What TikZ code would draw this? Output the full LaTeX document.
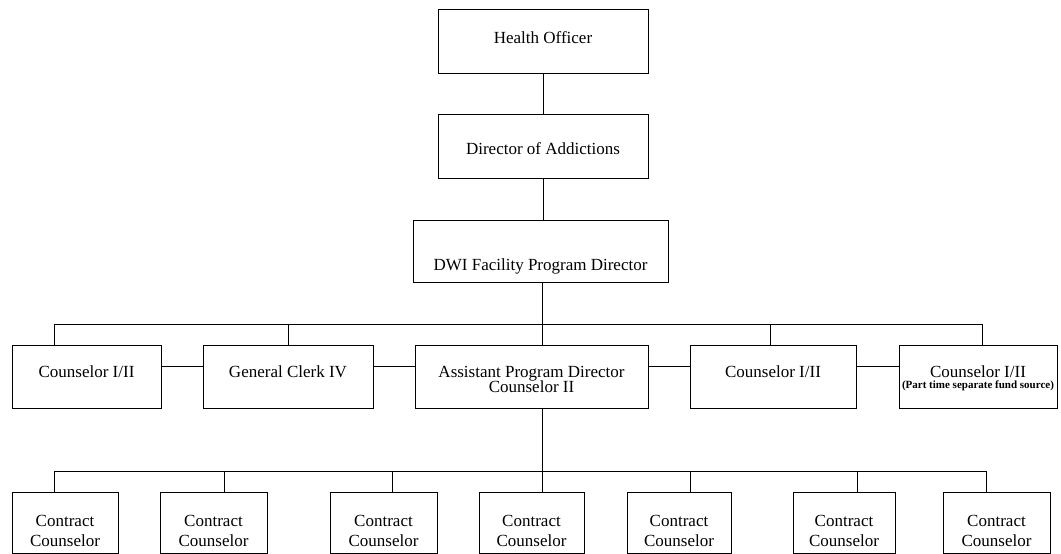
\documentclass[tikz,border=0pt]{standalone}
\usepackage{fontspec}
\setmainfont{Liberation Serif}
\usepackage{tikz}
\usetikzlibrary{positioning}

\begin{document}
\begin{tikzpicture}[
  x=1pt, y=-1pt,
  every path/.style={line width=0.9pt},
  post/.style={draw, inner xsep=0pt, inner ysep=0pt, anchor=north, align=center,
    font=\fontsize{17}{20}\selectfont},
  chief/.style={post, minimum width=210pt},
  staff/.style={post, text height=32pt, text depth=31pt},
  contract/.style={post, text height=54pt, text depth=7pt},
]
\useasboundingbox (0,0) rectangle (1061,554);
% nodes
\node[chief, text height=34pt, text depth=30pt] (ho) at (543,9) {Health Officer};
\node[chief, text height=40pt, text depth=24pt] (doa) at (543,114) {Director of Addictions};
\node[post, minimum width=255pt, text height=50pt, text depth=12pt] (dwi) at (540.5,220)
  {DWI Facility Program Director};
% staff row
\node[staff, minimum width=149pt] (cs1) at (86.5,345) {Counselor I/II};
\node[staff, minimum width=170pt] (gc) at (288,345) {General Clerk IV};
\node[staff, minimum width=233pt, text height=47pt, text depth=16pt] (apd) at (531.5,345)
  {Assistant Program Director\\[-5pt]Counselor II};
\node[staff, minimum width=166pt] (cs2) at (773,345) {Counselor I/II};
\node[staff, minimum width=158pt, text height=43pt, text depth=20pt] (cs3) at (978,345)
  {Counselor I/II\\[-9pt]{\fontsize{11}{11}\selectfont\bfseries (Part time separate fund source)}};
% contract row
\node[contract, minimum width=106pt] (cc1) at (65,492) {Contract\\Counselor};
\node[contract, minimum width=107pt] (cc2) at (213.5,492) {Contract\\Counselor};
\node[contract, minimum width=107pt] (cc3) at (383.5,492) {Contract\\Counselor};
\node[contract, minimum width=105pt] (cc4) at (531.5,492) {Contract\\Counselor};
\node[contract, minimum width=104pt] (cc5) at (679,492) {Contract\\Counselor};
\node[contract, minimum width=102pt] (cc6) at (844,492) {Contract\\Counselor};
\node[contract, minimum width=107pt] (cc7) at (996.5,492) {Contract\\Counselor};
% bus points
\coordinate (p1) at (54,324);
\coordinate (p2) at (288,324);
\coordinate (p3) at (542,324);
\coordinate (p4) at (770,324);
\coordinate (p5) at (982,324);
\coordinate (mid) at (0,366);
\coordinate (q1) at (54,471);
\coordinate (q2) at (224,471);
\coordinate (q3) at (392,471);
\coordinate (q4) at (542,471);
\coordinate (q5) at (690,471);
\coordinate (q6) at (857,471);
\coordinate (q7) at (986,471);
% edges
\draw (ho) -- (doa);
\draw (doa.south) -- (dwi.north -| doa.south);
\draw (dwi.south -| p3) -- (p3);
\draw (p1) -- (p5);
\draw (cs1.north -| p1) -- (p1);
\draw (gc.north -| p2) -- (p2);
\draw (apd.north -| p3) -- (p3);
\draw (cs2.north -| p4) -- (p4);
\draw (cs3.north -| p5) -- (p5);
\draw (cs1.east |- mid) -- (gc.west |- mid);
\draw (gc.east |- mid) -- (apd.west |- mid);
\draw (apd.east |- mid) -- (cs2.west |- mid);
\draw (cs2.east |- mid) -- (cs3.west |- mid);
\draw (apd.south -| q4) -- (q4);
\draw (q1) -- (q7);
\draw (cc1.north -| q1) -- (q1);
\draw (cc2.north -| q2) -- (q2);
\draw (cc3.north -| q3) -- (q3);
\draw (cc4.north -| q4) -- (q4);
\draw (cc5.north -| q5) -- (q5);
\draw (cc6.north -| q6) -- (q6);
\draw (cc7.north -| q7) -- (q7);
\end{tikzpicture}
\end{document}
